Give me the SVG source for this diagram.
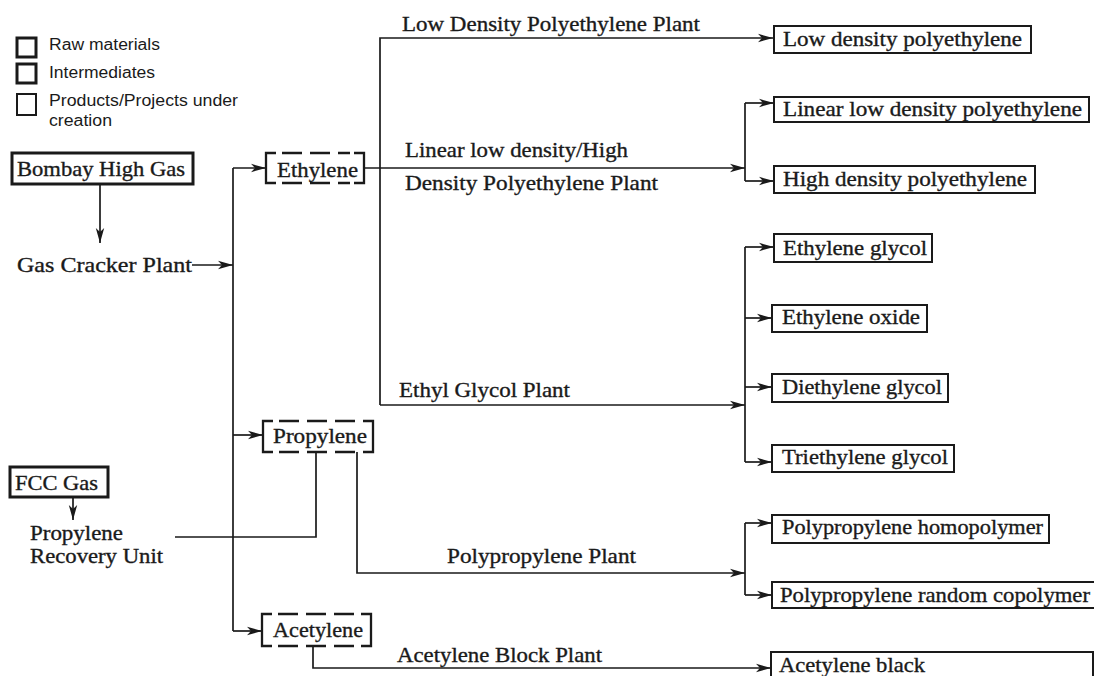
<svg xmlns="http://www.w3.org/2000/svg" width="1094" height="676" viewBox="0 0 1094 676">
<defs>
<marker id="ah" markerUnits="userSpaceOnUse" markerWidth="16" markerHeight="10" refX="15" refY="5" orient="auto">
<path d="M0,0.8 L15,5 L0,9.2 L4,5 Z" fill="#1a1a1a"/>
</marker>
<style>
.t{font-family:"Liberation Serif","Times New Roman",serif;font-size:21px;fill:#1a1a1a;stroke:#1a1a1a;stroke-width:0.35}
.lg{font-family:"Liberation Sans",Arial,sans-serif;font-size:16px;fill:#1a1a1a}
.c{fill:none;stroke:#1a1a1a;stroke-width:1.7}
.a{marker-end:url(#ah)}
.raw{fill:#fff;stroke:#1a1a1a;stroke-width:3}
.prod{fill:#fff;stroke:#1a1a1a;stroke-width:2}
.br{fill:none;stroke:#1a1a1a;stroke-width:2.3}
.dash{fill:none;stroke:#1a1a1a;stroke-width:2.3;stroke-dasharray:20 8}
</style>
</defs>
<rect width="1094" height="676" fill="#fff"/>

<g id="legend">
<rect x="17" y="38" width="19" height="19" class="raw" stroke-width="2.5"/>
<text x="49" y="50" class="lg" textLength="111" lengthAdjust="spacingAndGlyphs">Raw materials</text>
<rect x="17" y="64" width="19" height="19" class="raw" stroke-width="2.2"/>
<text x="49" y="78" class="lg" textLength="106" lengthAdjust="spacingAndGlyphs">Intermediates</text>
<rect x="17" y="94" width="19" height="21" class="prod" stroke-width="1.6"/>
<text x="49" y="106" class="lg" textLength="189" lengthAdjust="spacingAndGlyphs">Products/Projects under</text>
<text x="49" y="126" class="lg" textLength="63" lengthAdjust="spacingAndGlyphs">creation</text>
</g>

<g id="connectors">
<path class="c a" d="M100 185 V243"/>
<path class="c a" d="M192 265 H233"/>
<path class="c" d="M233 168 V631"/>
<path class="c a" d="M233 168 H266"/>
<path class="c a" d="M233 435 H263"/>
<path class="c a" d="M233 631 H262"/>
<path class="c a" d="M73 497 V520"/>
<path class="c" d="M175 537 H316 V452"/>
<path class="c a" d="M364 168 H745"/>
<path class="c a" d="M380 405 V38 H773"/>
<path class="c a" d="M380 405 H745"/>
<path class="c" d="M745 103 V181"/>
<path class="c a" d="M745 103 H774"/>
<path class="c a" d="M745 181 H774"/>
<path class="c" d="M745 247 V462"/>
<path class="c a" d="M745 247 H774"/>
<path class="c a" d="M745 318 H772"/>
<path class="c a" d="M745 387 H772"/>
<path class="c a" d="M745 462 H772"/>
<path class="c a" d="M357 452 V573 H745"/>
<path class="c" d="M745 523 V595"/>
<path class="c a" d="M745 523 H772"/>
<path class="c a" d="M745 595 H772"/>
<path class="c a" d="M313 646 V668 H771"/>
</g>

<g id="edge-labels">
<text x="402" y="31" class="t" textLength="298" lengthAdjust="spacingAndGlyphs">Low Density Polyethylene Plant</text>
<text x="405" y="157" class="t" textLength="223" lengthAdjust="spacingAndGlyphs">Linear low density/High</text>
<text x="405" y="190" class="t" textLength="253" lengthAdjust="spacingAndGlyphs">Density Polyethylene Plant</text>
<text x="399" y="397" class="t" textLength="171" lengthAdjust="spacingAndGlyphs">Ethyl Glycol Plant</text>
<text x="447" y="563" class="t" textLength="189" lengthAdjust="spacingAndGlyphs">Polypropylene Plant</text>
<text x="397" y="662" class="t" textLength="205" lengthAdjust="spacingAndGlyphs">Acetylene Block Plant</text>
</g>

<g id="bombay-high-gas">
<rect x="12" y="153" width="181" height="31" class="raw"/>
<text x="17" y="176" class="t" textLength="168" lengthAdjust="spacingAndGlyphs">Bombay High Gas</text>
</g>

<g id="gas-cracker-plant">
<text x="17" y="272" class="t" textLength="175" lengthAdjust="spacingAndGlyphs">Gas Cracker Plant</text>
</g>

<g id="fcc-gas">
<rect x="10" y="467" width="98" height="30" class="raw"/>
<text x="15" y="490" class="t" textLength="83" lengthAdjust="spacingAndGlyphs">FCC Gas</text>
</g>

<g id="propylene-recovery-unit">
<text x="30" y="540" class="t" textLength="93" lengthAdjust="spacingAndGlyphs">Propylene</text>
<text x="30" y="563" class="t" textLength="133" lengthAdjust="spacingAndGlyphs">Recovery Unit</text>
</g>

<g id="ethylene">
<path class="br" d="M276 153 H266 V183 H276 M354 153 H364 V183 H354"/>
<path class="dash" d="M282 153 H350 M282 183 H350"/>
<text x="277" y="177" class="t" textLength="81" lengthAdjust="spacingAndGlyphs">Ethylene</text>
</g>

<g id="propylene">
<path class="br" d="M273 421 H263 V452 H273 M363 421 H373 V452 H363"/>
<path class="dash" d="M279 421 H358 M279 452 H358"/>
<text x="273" y="443" class="t" textLength="94" lengthAdjust="spacingAndGlyphs">Propylene</text>
</g>

<g id="acetylene">
<path class="br" d="M272 614 H262 V646 H272 M361 614 H371 V646 H361"/>
<path class="dash" d="M278 614 H356 M278 646 H356"/>
<text x="273" y="637" class="t" textLength="90" lengthAdjust="spacingAndGlyphs">Acetylene</text>
</g>

<g id="low-density-polyethylene">
<rect x="774" y="26" width="257" height="27" class="prod"/>
<text x="783" y="46" class="t" textLength="239" lengthAdjust="spacingAndGlyphs">Low density polyethylene</text>
</g>

<g id="linear-low-density-polyethylene">
<rect x="774" y="97" width="315" height="25" class="prod"/>
<text x="783" y="116" class="t" textLength="299" lengthAdjust="spacingAndGlyphs">Linear low density polyethylene</text>
</g>

<g id="high-density-polyethylene">
<rect x="774" y="166" width="261" height="27" class="prod"/>
<text x="783" y="186" class="t" textLength="244" lengthAdjust="spacingAndGlyphs">High density polyethylene</text>
</g>

<g id="ethylene-glycol">
<rect x="774" y="234" width="158" height="28" class="prod"/>
<text x="783" y="255" class="t" textLength="144" lengthAdjust="spacingAndGlyphs">Ethylene glycol</text>
</g>

<g id="ethylene-oxide">
<rect x="772" y="305" width="155" height="27" class="prod"/>
<text x="782" y="324" class="t" textLength="138" lengthAdjust="spacingAndGlyphs">Ethylene oxide</text>
</g>

<g id="diethylene-glycol">
<rect x="772" y="374" width="176" height="28" class="prod"/>
<text x="782" y="394" class="t" textLength="160" lengthAdjust="spacingAndGlyphs">Diethylene glycol</text>
</g>

<g id="triethylene-glycol">
<rect x="772" y="445" width="182" height="27" class="prod"/>
<text x="782" y="464" class="t" textLength="166" lengthAdjust="spacingAndGlyphs">Triethylene glycol</text>
</g>

<g id="polypropylene-homopolymer">
<rect x="772" y="515" width="277" height="28" class="prod"/>
<text x="782" y="534" class="t" textLength="261" lengthAdjust="spacingAndGlyphs">Polypropylene homopolymer</text>
</g>

<g id="polypropylene-random-copolymer">
<rect x="772" y="582" width="330" height="26" class="prod"/>
<text x="780" y="602" class="t" textLength="310" lengthAdjust="spacingAndGlyphs">Polypropylene random copolymer</text>
</g>

<g id="acetylene-black">
<rect x="771" y="652" width="322" height="40" class="prod"/>
<text x="779" y="672" class="t" textLength="146" lengthAdjust="spacingAndGlyphs">Acetylene black</text>
</g>
</svg>
